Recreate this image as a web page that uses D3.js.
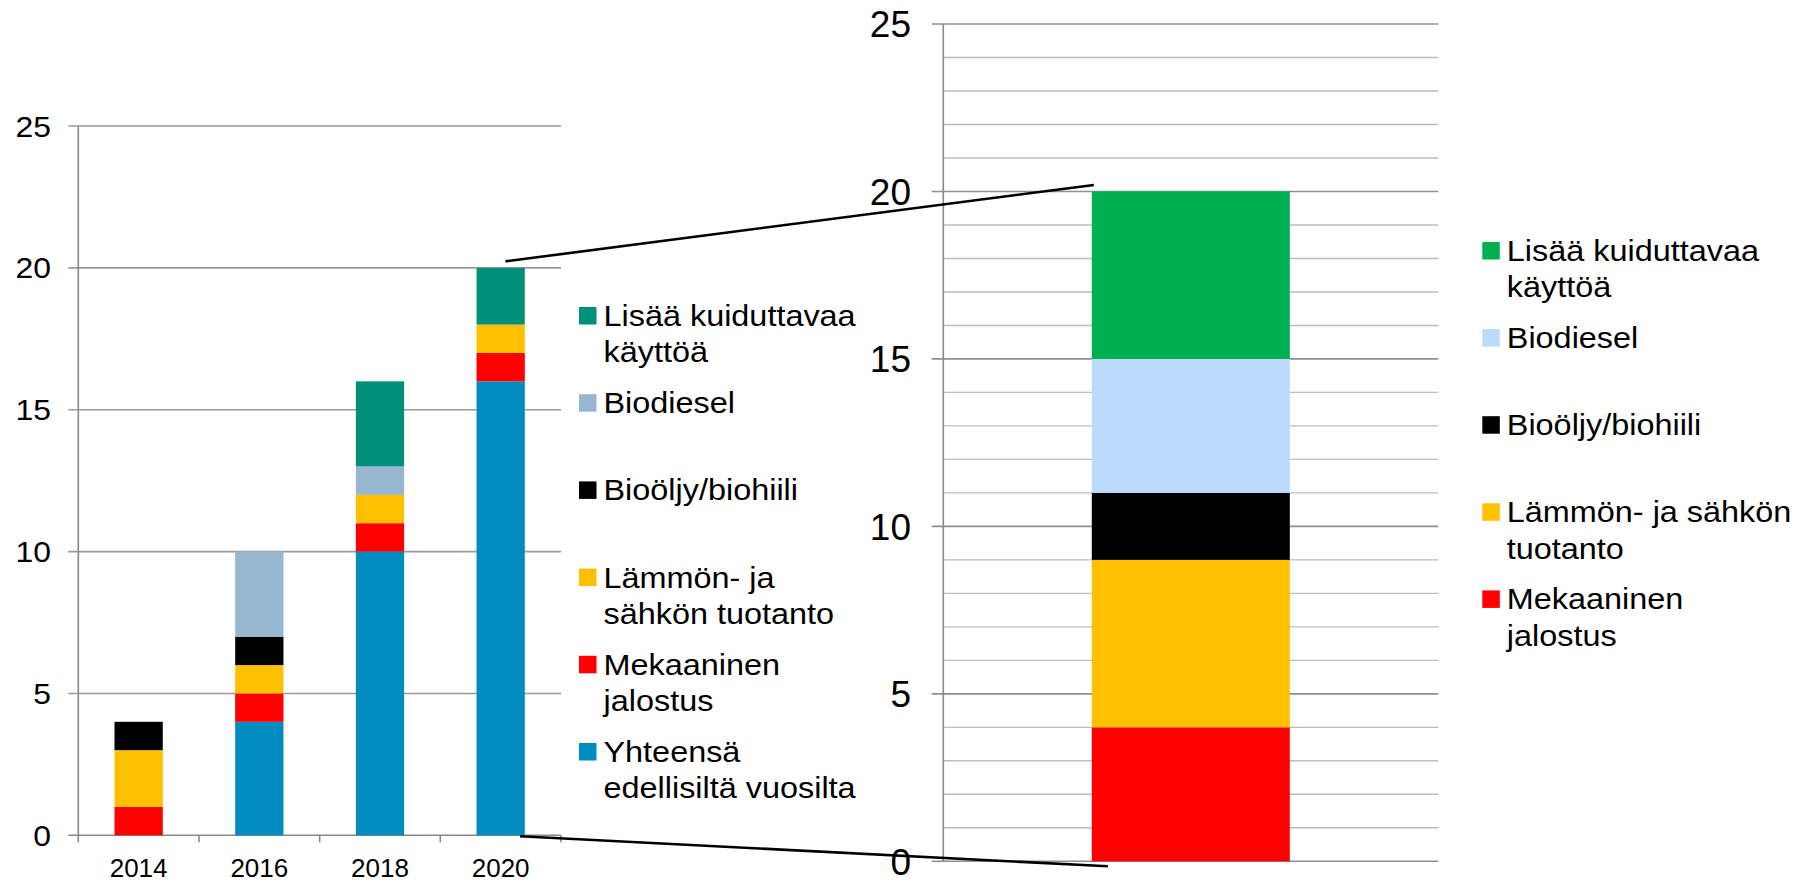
<html>
<head>
<meta charset="utf-8">
<script src="https://d3js.org/d3.v7.min.js"></script>
</head>
<body>
<style>
  body {
    margin: 0;
    background: #fff;
  }
  svg {
    display: block;
    font-family: "Liberation Sans", Arial, sans-serif;
  }
  .legend text {
    font-size: 30px;
    fill: #000;
  }
</style>
<script>
// left chart: stacked by year, bottom -> top
var years = ["2014", "2016", "2018", "2020"];
var previousYears = [0, 4, 10, 16];
var mechanical = [1, 1, 1, 1];
var heatPower = [2, 1, 1, 1];
var bioOil = [1, 1, 0, 0];
var biodiesel = [0, 3, 1, 0];
var moreFiber = [0, 0, 3, 2];

// right chart: the 2020 addition split up, bottom -> top
var zoomKeys = ["Mekaaninen jalostus", "Lämmön- ja sähkön tuotanto", "Bioöljy/biohiili", "Biodiesel", "Lisää kuiduttavaa käyttöä"];
var zoomValues = [4, 5, 2, 4, 5];

var yTicks = [0, 5, 10, 15, 20, 25];

var leftKeys = ["Yhteensä edellisiltä vuosilta", "Mekaaninen jalostus", "Lämmön- ja sähkön tuotanto", "Bioöljy/biohiili", "Biodiesel", "Lisää kuiduttavaa käyttöä"];
var leftColors = ["#008bc1", "#ff0000", "#ffc000", "#000000", "#97b6d0", "#00907a"];
var rightColors = ["#ff0000", "#ffc000", "#000000", "#b9dcfd", "#00b050"];

// legend labels (top -> bottom), split on the lines the original breaks at
var leftLegend = [
  ["Lisää kuiduttavaa", "käyttöä"],
  ["Biodiesel"],
  ["Bioöljy/biohiili"],
  ["Lämmön- ja", "sähkön tuotanto"],
  ["Mekaaninen", "jalostus"],
  ["Yhteensä", "edellisiltä vuosilta"]
];
var rightLegend = [
  ["Lisää kuiduttavaa", "käyttöä"],
  ["Biodiesel"],
  ["Bioöljy/biohiili"],
  ["Lämmön- ja sähkön", "tuotanto"],
  ["Mekaaninen", "jalostus"]
];

var width = 1807,
  height = 882;

var svg = d3.select("body").append("svg")
  .attr("width", width)
  .attr("height", height);

// build rows for d3.stack
var rows = years.map(function(y, i) {
  var r = { year: y };
  r[leftKeys[0]] = previousYears[i];
  r[leftKeys[1]] = mechanical[i];
  r[leftKeys[2]] = heatPower[i];
  r[leftKeys[3]] = bioOil[i];
  r[leftKeys[4]] = biodiesel[i];
  r[leftKeys[5]] = moreFiber[i];
  return r;
});
var leftStack = d3.stack().keys(leftKeys)(rows);

var zoomRow = { year: "2020" };
zoomKeys.forEach(function(k, i) { zoomRow[k] = zoomValues[i]; });
var rightStack = d3.stack().keys(zoomKeys)([zoomRow]);

/** left chart **/
var x1 = d3.scaleBand()
  .domain(years)
  .range([78.3, 561])
  .paddingInner(0.6)
  .paddingOuter(0.3);

var y1 = d3.scaleLinear()
  .domain([0, 25])
  .range([835.3, 126]);

var left = svg.append("g").attr("class", "left");

// gridlines (they run out past the axis as ticks)
left.append("g")
  .selectAll("line")
  .data(yTicks)
  .enter().append("line")
  .attr("x1", 68.3)
  .attr("x2", x1.range()[1])
  .attr("y1", d => y1(d))
  .attr("y2", d => y1(d))
  .attr("stroke", d => d === 0 ? "#888" : "#9a9a9a")
  .attr("stroke-width", 1.6);

left.append("line")
  .attr("x1", x1.range()[0])
  .attr("x2", x1.range()[0])
  .attr("y1", y1(25))
  .attr("y2", y1(0))
  .attr("stroke", "#888")
  .attr("stroke-width", 1.6);

// category ticks on the x axis
left.append("g")
  .selectAll("line")
  .data(d3.range(years.length + 1))
  .enter().append("line")
  .attr("x1", d => x1.range()[0] + d * x1.step())
  .attr("x2", d => x1.range()[0] + d * x1.step())
  .attr("y1", y1(0))
  .attr("y2", y1(0) + 7)
  .attr("stroke", "#888")
  .attr("stroke-width", 1.6);

left.append("g")
  .selectAll("g")
  .data(leftStack)
  .enter().append("g")
  .attr("fill", (d, i) => leftColors[i])
  .selectAll("rect")
  .data(d => d)
  .enter().append("rect")
  .attr("x", d => x1(d.data.year))
  .attr("width", x1.bandwidth())
  .attr("y", d => y1(d[1]))
  .attr("height", d => y1(d[0]) - y1(d[1]));

// y labels are a little wider than plain Arial in the original
left.append("g")
  .selectAll("text")
  .data(yTicks)
  .enter().append("text")
  .attr("transform", d => "translate(51," + y1(d) + ") scale(1.08,1)")
  .attr("dy", "0.36em")
  .attr("text-anchor", "end")
  .style("font-size", "29.5px")
  .text(d => d);

left.append("g")
  .selectAll("text")
  .data(years)
  .enter().append("text")
  .attr("x", d => x1(d) + x1.bandwidth() / 2)
  .attr("y", 877)
  .attr("text-anchor", "middle")
  .style("font-size", "26px")
  .text(d => d);

/** right chart **/
var x2 = d3.scaleBand()
  .domain(["2020"])
  .range([943.3, 1438.3])
  .paddingInner(0.6)
  .paddingOuter(0.3);

var y2 = d3.scaleLinear()
  .domain([0, 25])
  .range([861.3, 24]);

var right = svg.append("g").attr("class", "right");

// minor gridlines every 1, major every 5
right.append("g")
  .selectAll("line")
  .data(d3.range(1, 26).filter(d => d % 5 !== 0))
  .enter().append("line")
  .attr("x1", x2.range()[0])
  .attr("x2", x2.range()[1])
  .attr("y1", d => y2(d))
  .attr("y2", d => y2(d))
  .attr("stroke", "#bdbdbd")
  .attr("stroke-width", 1.4);

right.append("g")
  .selectAll("line")
  .data(yTicks)
  .enter().append("line")
  .attr("x1", 931.7)
  .attr("x2", x2.range()[1])
  .attr("y1", d => y2(d))
  .attr("y2", d => y2(d))
  .attr("stroke", "#8f8f8f")
  .attr("stroke-width", 1.6);

right.append("line")
  .attr("x1", x2.range()[0])
  .attr("x2", x2.range()[0])
  .attr("y1", y2(25))
  .attr("y2", y2(0))
  .attr("stroke", "#888")
  .attr("stroke-width", 1.6);

right.append("g")
  .selectAll("g")
  .data(rightStack)
  .enter().append("g")
  .attr("fill", (d, i) => rightColors[i])
  .selectAll("rect")
  .data(d => d)
  .enter().append("rect")
  .attr("x", d => x2(d.data.year))
  .attr("width", x2.bandwidth())
  .attr("y", d => y2(d[1]))
  .attr("height", d => y2(d[0]) - y2(d[1]));

right.append("g")
  .selectAll("text")
  .data(yTicks)
  .enter().append("text")
  .attr("x", 911)
  .attr("y", d => y2(d))
  .attr("dy", "0.36em")
  .attr("text-anchor", "end")
  .style("font-size", "37px")
  .text(d => d);

/** connector lines from the 2020 bar to the zoomed bar **/
var conn = svg.append("g")
  .attr("stroke", "#000")
  .attr("stroke-width", 2.6);

conn.append("line")
  .attr("x1", x1("2020") + x1.bandwidth() * 0.6)
  .attr("y1", y1(20) - 6.5)
  .attr("x2", x2("2020") + 2)
  .attr("y2", y2(20) - 6.5);

conn.append("line")
  .attr("x1", x1("2020") + x1.bandwidth() * 0.9)
  .attr("y1", y1(0) + 1)
  .attr("x2", x2("2020") + 16)
  .attr("y2", y2(0) + 5);

/** legends **/
function drawLegend(items, colors, x, y0, step) {
  var lg = svg.append("g")
    .attr("class", "legend")
    .selectAll("g")
    .data(items)
    .enter().append("g")
    .attr("transform", (d, i) => "translate(" + x + "," + (y0 + i * step) + ")");

  lg.append("rect")
    .attr("x", 0)
    .attr("y", -19)
    .attr("width", 17.5)
    .attr("height", 17.5)
    .attr("fill", (d, i) => colors[i]);

  // the original text is stretched sideways a bit
  lg.append("text")
    .attr("transform", "translate(24.5,0) scale(1.08,1)")
    .selectAll("tspan")
    .data(d => d)
    .enter().append("tspan")
    .attr("x", 0)
    .attr("y", (d, i) => i * 36.5)
    .text(d => d);
}

// left legend lists the series top of stack first
drawLegend(leftLegend, leftColors.slice().reverse(), 579, 326, 87.2);
drawLegend(rightLegend, rightColors.slice().reverse(), 1482.3, 261, 87.1);
</script>
</body>
</html>
